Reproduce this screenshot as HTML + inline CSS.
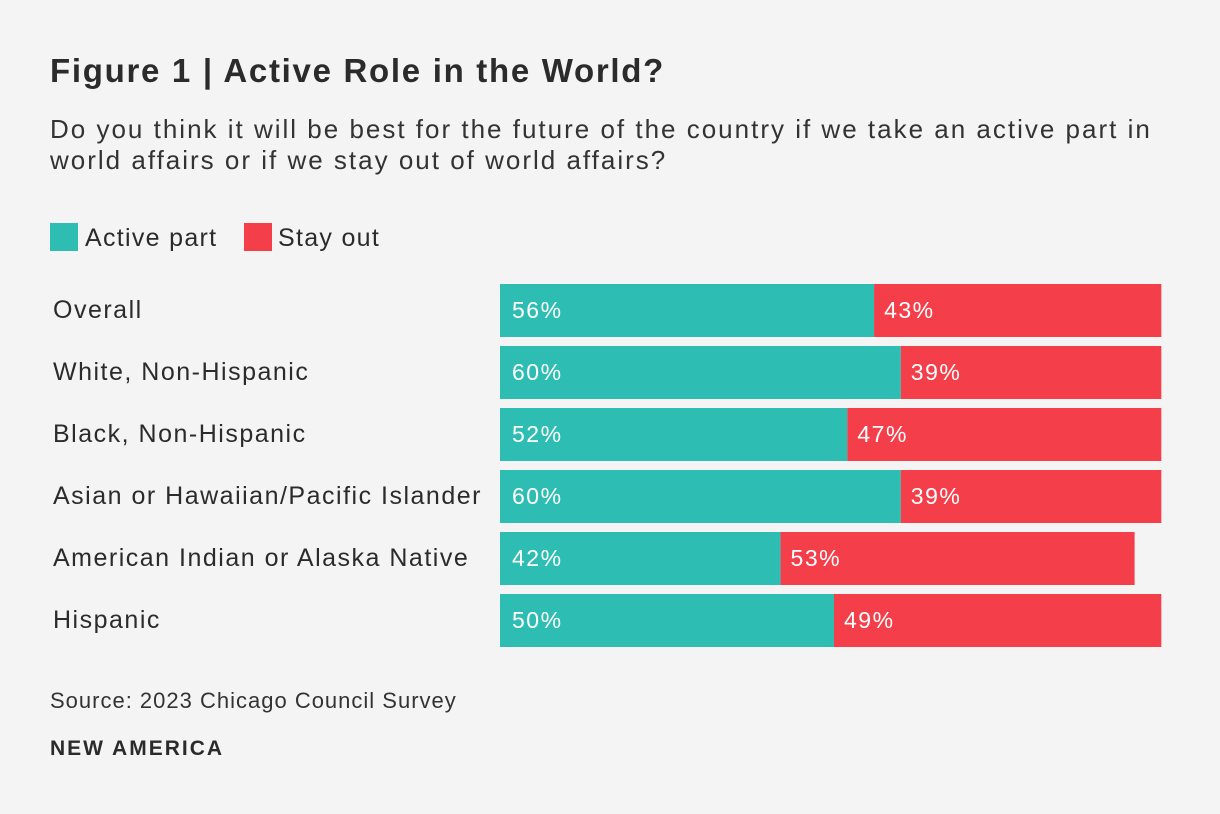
<!DOCTYPE html>
<html><head><meta charset="utf-8"><style>
body{margin:0;background:#f4f4f4;width:1220px;height:814px;overflow:hidden;font-family:"Liberation Sans",sans-serif;color:#2b2b2b}
.abs{position:absolute;white-space:nowrap}
</style></head><body>
<div class="abs" style="left:50px;top:52px;font-size:33px;letter-spacing:1.7px;font-weight:bold;">Figure 1 | Active Role in the World?</div>
<div class="abs" style="left:50px;top:114px;font-size:26px;letter-spacing:2px;line-height:31px;color:#333">Do you think it will be best for the future of the country if we take an active part in<br>world affairs or if we stay out of world affairs?</div>
<div class="abs" style="left:50px;top:223px;font-size:25px;letter-spacing:1.3px;"><span style="display:inline-block;width:28px;height:28px;background:#2ebdb3;vertical-align:-5px;margin-right:7px"></span>Active part</div>
<div class="abs" style="left:244px;top:223px;font-size:25px;letter-spacing:1.3px;"><span style="display:inline-block;width:28px;height:28px;background:#f43f4a;vertical-align:-5px;margin-right:6px"></span>Stay out</div>
<svg id="chart" width="1220" height="814" style="position:absolute;left:0;top:0"></svg>
<div class="abs" style="left:50px;top:688px;font-size:22px;letter-spacing:1px;color:#333">Source: 2023 Chicago Council Survey</div>
<div class="abs" style="left:50px;top:737px;font-size:21px;letter-spacing:2px;font-weight:bold;">NEW AMERICA</div>
<script>
const categories=["Overall","White, Non-Hispanic","Black, Non-Hispanic","Asian or Hawaiian/Pacific Islander","American Indian or Alaska Native","Hispanic"];
const activeValues=[56,60,52,60,42,50];
const stayValues=[43,39,47,39,53,49];
const svg=document.getElementById('chart');
const NS='http://www.w3.org/2000/svg';
const x0=500,pxPer=6.68,y0=284,step=62,bh=53;
const xs=v=>v*pxPer;
function mk(tag,attrs){const e=document.createElementNS(NS,tag);for(const k in attrs)e.setAttribute(k,attrs[k]);svg.appendChild(e);return e;}
categories.forEach((c,i)=>{
  const y=y0+i*step;
  const lab=mk('text',{x:53,y:y+34,'font-size':25,'letter-spacing':1.5,fill:'#2b2b2b','font-family':'Liberation Sans, sans-serif'});
  lab.textContent=c;
  
  
  const wa=xs(activeValues[i]);
  const ra=mk('rect',{x:x0,y:y,width:wa,height:bh,fill:'#2ebdb3'});
  
  
  const rs=mk('rect',{x:x0+wa,y:y,width:xs(stayValues[i]),height:bh,fill:'#f43f4a'});
  
  
  const ta=mk('text',{x:x0+12,y:y+34,'font-size':23,'letter-spacing':1.5,fill:'#fff','font-family':'Liberation Sans, sans-serif'});
  ta.textContent=activeValues[i]+'%';
  
  
  const ts=mk('text',{x:x0+wa+10,y:y+34,'font-size':23,'letter-spacing':1.5,fill:'#fff','font-family':'Liberation Sans, sans-serif'});
  ts.textContent=stayValues[i]+'%';
  
  
});
</script>
</body></html>
